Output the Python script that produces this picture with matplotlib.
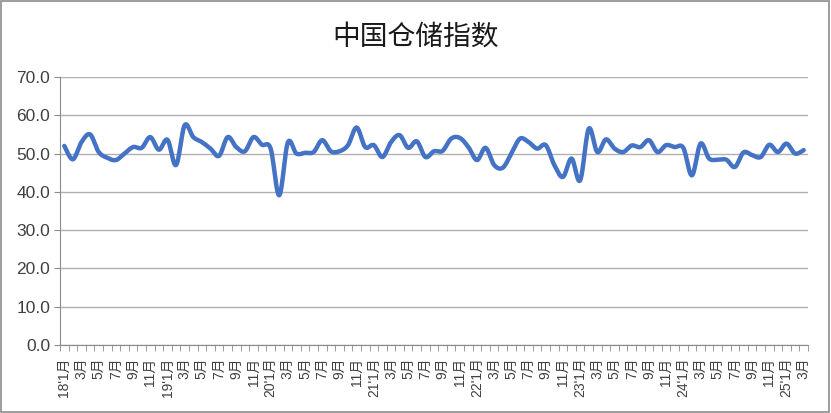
import numpy as np
import matplotlib.pyplot as plt
from matplotlib.patches import Rectangle

plt.rcParams['font.family'] = ['Liberation Sans', 'Noto Sans CJK SC', 'DejaVu Sans']

years = ['18', '19', '20', '21', '22', '23', '24', '25']
months_last_year = 3

values = [
    52.0, 48.5, 53.0, 55.0, 50.4, 48.9, 48.3, 50.0, 51.7, 51.5, 54.3, 51.0,
    53.6, 47.0, 57.4, 54.3, 53.0, 51.3, 49.4, 54.3, 51.7, 50.6, 54.3, 52.3,
    51.3, 39.1, 52.9, 50.0, 50.2, 50.4, 53.5, 50.6, 50.6, 52.2, 56.8, 51.7,
    52.2, 49.1, 53.0, 54.8, 51.5, 53.2, 49.1, 50.6, 50.7, 53.9, 54.1, 51.7,
    48.3, 51.5, 47.0, 46.3, 50.0, 53.9, 53.0, 51.3, 52.2, 47.0, 43.9, 48.7,
    43.0, 56.5, 50.4, 53.7, 51.3, 50.4, 52.1, 51.7, 53.5, 50.4, 52.2, 51.7,
    51.5, 44.3, 52.6, 48.7, 48.4, 48.4, 46.5, 50.3, 49.6, 49.1, 52.3, 50.4,
    52.6, 50.0, 50.9,
]

labels = []
for y in years:
    n = months_last_year if y == years[-1] else 12
    for m in range(1, n + 1):
        if m % 2 == 0:
            labels.append('')
        elif m == 1:
            labels.append(y + "'1月")
        else:
            labels.append(str(m) + '月')


def smooth(x, y, n=12):
    # catmull-rom, like excel's smoothed line
    px = np.concatenate([[x[0]], x, [x[-1]]])
    py = np.concatenate([[y[0]], y, [y[-1]]])
    xs, ys = [], []
    t = np.linspace(0, 1, n, endpoint=False)
    for i in range(1, len(px) - 2):
        for p, out in ((px, xs), (py, ys)):
            p0, p1, p2, p3 = p[i - 1], p[i], p[i + 1], p[i + 2]
            out.extend(0.5 * (2 * p1 + (-p0 + p2) * t
                              + (2 * p0 - 5 * p1 + 4 * p2 - p3) * t ** 2
                              + (-p0 + 3 * p1 - 3 * p2 + p3) * t ** 3))
    xs.append(x[-1])
    ys.append(y[-1])
    return np.array(xs), np.array(ys)


x = np.arange(len(values))
sx, sy = smooth(x.astype(float), np.array(values))

fig = plt.figure(figsize=(8.31, 4.13), dpi=100)
ax = fig.add_axes([0.0722, 0.1646, 0.9001, 0.649])
fig.patches.append(Rectangle((0.001, 0.002), 0.997, 0.995, transform=fig.transFigure,
                             fill=False, edgecolor='#8c8c8c', linewidth=1.2))

ax.plot(sx, sy, color='#4472C4', linewidth=3.2, solid_capstyle='round', zorder=3)

ax.set_ylim(0, 70)
ax.set_xlim(-0.5, len(values) - 0.5)
ax.set_yticks(np.arange(0, 71, 10))
ax.set_yticklabels(['%.1f' % v for v in np.arange(0, 71, 10)], fontsize=12.5, color='#404040')
ax.yaxis.grid(True, color='#b0b0b0', linewidth=1)
ax.set_axisbelow(True)

ax.set_xticks(x)
ax.set_xticklabels(labels, rotation=90, fontsize=10, color='#404040')
ax.tick_params(axis='x', length=0, pad=9)
ax.set_xticks(np.arange(-0.5, len(values), 1), minor=True)
ax.tick_params(axis='x', which='minor', length=4, color='#8c8c8c')
ax.tick_params(axis='y', length=4, color='#8c8c8c', pad=3)

for s in ['top', 'right']:
    ax.spines[s].set_visible(False)
for s in ['left', 'bottom']:
    ax.spines[s].set_color('#8c8c8c')

fig.text(0.5, 0.912, '中国仓储指数', ha='center', va='center', fontsize=20,
         color='#1a1a1a', family=['Noto Sans CJK SC'])

fig.savefig('out.png', dpi=100)
